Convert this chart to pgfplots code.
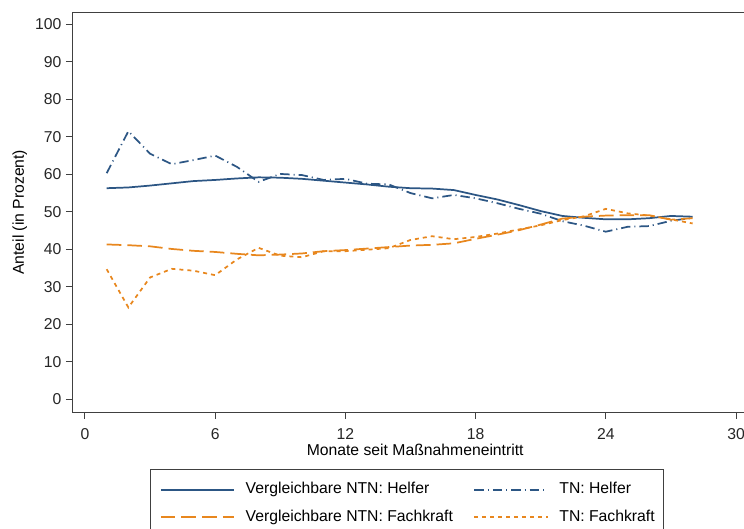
\documentclass[border=0pt]{standalone}
\usepackage{fontspec}
\setmainfont{Liberation Sans}
\usepackage{pgfplots}
\pgfplotsset{compat=1.18}
\usepackage{pgfplotstable}

\definecolor{helfer}{HTML}{2C5684}
\definecolor{fach}{HTML}{E8871E}
\definecolor{spine}{HTML}{404040}

% Monat, Vergleichbare NTN Helfer, TN Helfer, Vergleichbare NTN Fachkraft, TN Fachkraft
\pgfplotstableread{
m  vh    th    vf    tf
1  56.3  60.3  41.3  34.7
2  56.5  71.5  41.1  24.5
3  57.0  65.5  40.8  32.5
4  57.6  62.7  40.1  34.8
5  58.2  63.8  39.6  34.3
6  58.5  65.0  39.3  33.1
7  58.9  62.0  38.8  37.3
8  59.2  58.0  38.4  40.4
9  59.1  60.1  38.6  38.3
10 58.8  59.8  38.9  37.9
11 58.3  58.5  39.5  39.5
12 57.8  58.8  39.8  39.5
13 57.3  57.5  40.2  39.9
14 56.7  57.3  40.6  40.3
15 56.3  55.0  41.0  42.5
16 56.2  53.6  41.2  43.5
17 55.8  54.5  41.6  42.7
18 54.5  53.6  42.8  43.3
19 53.3  52.3  43.9  44.2
20 51.8  50.8  45.1  45.3
21 50.2  49.5  46.6  46.4
22 48.9  47.5  48.2  47.8
23 48.4  46.3  48.7  48.8
24 48.0  44.7  49.0  50.8
25 48.0  46.0  49.1  49.6
26 48.3  46.2  49.1  49.0
27 48.9  47.6  47.9  48.0
28 48.7  48.4  48.3  46.9
}\data

\begin{document}
\begin{tikzpicture}[font=\fontsize{11.8}{14}\selectfont]
\useasboundingbox (0,0) rectangle (558pt,396.75pt);
\begin{axis}[
    at={(54.5pt,87.5pt)}, anchor=south west,
    scale only axis,
    width=513.8pt, height=300pt,
    xmin=-0.567, xmax=31,
    ymin=-3.47, ymax=103.2,
    axis line style={spine, line width=0.75pt},
    xtick={0,6,...,30},
    ytick={0,10,...,100},
    tick align=outside,
    tickpos=left,
    xtick pos=bottom,
    major tick length=5pt,
    tick style={spine, line width=0.75pt},
    minor tick num=0,
    /pgf/number format/assume math mode=true,
    ticklabel style={text=black!85},
    xticklabel style={yshift=-3.5pt},
    xlabel={Monate seit Maßnahmeneintritt},
    ylabel={Anteil (in Prozent)},
    xlabel style={at={(axis description cs:0.5,-0.094)}, anchor=center},
    ylabel style={at={(axis description cs:-0.077,0.5)}, anchor=center},
    legend columns=2,
    legend image code/.code={
        \draw[#1, line width=1.3pt] (0pt,0pt) -- (55pt,0pt);
        \path[draw=none] (0pt,0pt) -- (63.7pt,0pt);
    },
    legend style={
        name=leg,
        at={(axis description cs:0.1143,-0.1418)}, anchor=north west,
        draw=none,
        inner xsep=6.5pt, inner ysep=10pt,
        row sep=9.5pt,
        nodes={inner sep=0pt, anchor=west, text height=8.5pt, text depth=2.5pt},
        /tikz/every even column/.append style={column sep=15.5pt},
    },
]
\addplot[helfer, line width=1.3pt] table[x=m, y=vh] {\data};
\addlegendentry{Vergleichbare NTN: Helfer}
\addplot[helfer, line width=1.3pt, dash pattern=on 7pt off 3pt on 0.8pt off 3pt] table[x=m, y=th] {\data};
\addlegendentry{TN: Helfer}
\addplot[fach, line width=1.3pt, dash pattern=on 11pt off 4.5pt] table[x=m, y=vf] {\data};
\addlegendentry{Vergleichbare NTN: Fachkraft}
\addplot[fach, line width=1.3pt, dash pattern=on 3pt off 3pt] table[x=m, y=tf] {\data};
\addlegendentry{TN: Fachkraft}
\end{axis}
\draw[spine, line width=0.75pt] (leg.south west) rectangle (leg.north east);
\end{tikzpicture}
\end{document}
